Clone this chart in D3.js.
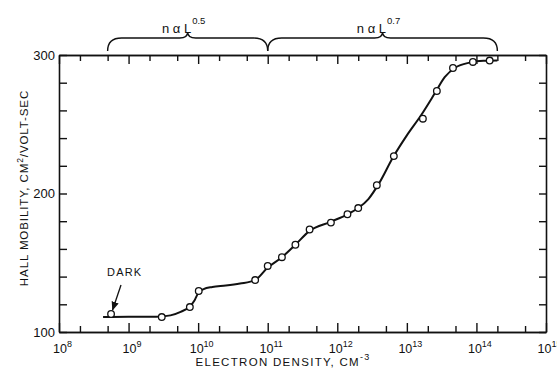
<!DOCTYPE html>
<html>
<head>
<meta charset="utf-8">
<script src="https://cdn.jsdelivr.net/npm/d3@7"></script>
<style>
  body { margin: 0; background: #fff; }
  svg { font-family: "Liberation Sans", Arial, sans-serif; }
</style>
</head>
<body>
<div id="chart-area"></div>
<script>
// measured points (electron density cm^-3, hall mobility)
var pointDensity = [5.6e8, 3e9, 7.6e9, 1.02e10, 6.6e10, 1e11, 1.6e11, 2.5e11, 4e11, 8.1e11,
                    1.4e12, 2e12, 3.7e12, 6.5e12, 1.7e13, 2.7e13, 4.6e13, 8.9e13, 1.55e14];
var pointMobility = [113, 110.8, 118, 129.6, 137.5, 147.7, 154, 163, 174, 179,
                     185, 189.5, 206, 227, 254, 274, 290.6, 295, 296];

// hand drawn fit curve
var curveDensity = [4.3e8, 1e9, 2.5e9, 4e9, 5.6e9, 7.6e9, 8.9e9, 1e10, 1.2e10, 1.6e10, 2.5e10,
                    4e10, 6.6e10, 1e11, 1.6e11, 2.5e11, 4e11, 8e11, 1.4e12, 2e12, 2.8e12,
                    4e12, 6.3e12, 1e13, 1.6e13, 2.5e13, 3.5e13, 5e13, 8e13, 1.26e14, 2e14];
var curveMobility = [110.8, 111, 111, 112, 114.5, 118.5, 123, 128, 131, 132.5, 133.5,
                     135, 137.5, 146.5, 154, 163, 173, 179.5, 185, 189.5, 196,
                     207.5, 226, 242, 256.5, 272, 284, 291, 294.5, 295.8, 296];

var xMajor = [1e8, 1e9, 1e10, 1e11, 1e12, 1e13, 1e14, 1e15];
var yTicks = [100, 120, 140, 160, 180, 200, 220, 240, 260, 280, 300];
var yLabels = [100, 200, 300];

// power-law regions marked above the plot
var braceRanges = [[5e8, 1e11], [1e11, 2e14]];
var braceExp = ["0.5", "0.7"];

var W = 557, H = 368;
var mLeft = 59, mRight = 546, mTop = 55, mBottom = 332;

var svg = d3.select("#chart-area")
    .append("svg")
    .attr("width", W)
    .attr("height", H);

var x = d3.scaleLog().domain([1e8, 1e15]).range([mLeft, mRight]);
var y = d3.scaleLinear().domain([100, 300]).range([mBottom, mTop]);

var xMinor = [];
xMajor.slice(0, -1).forEach((d) => { xMinor.push(2 * d, 5 * d); });

function styleAxis(g) {
    g.select(".domain").attr("stroke", "#111").attr("stroke-width", 1.6);
    g.selectAll(".tick line").attr("stroke", "#111").attr("stroke-width", 1.4);
}

// bottom axis
var gb = svg.append("g").attr("transform", "translate(0," + mBottom + ")")
    .call(d3.axisBottom(x).tickValues(xMajor).tickSizeInner(-9).tickSizeOuter(0).tickPadding(12));
styleAxis(gb);
gb.selectAll(".tick text")
    .attr("font-size", 12.5).attr("fill", "#111").attr("dx", 3)
    .each(function(d) {
        var t = d3.select(this);
        t.text("10");
        t.append("tspan").attr("dy", -6).attr("font-size", 9)
            .text(Math.round(Math.log10(d)));
    });
svg.append("g").attr("transform", "translate(0," + mBottom + ")")
    .call(d3.axisBottom(x).tickValues(xMinor).tickSizeInner(-6).tickSizeOuter(0).tickFormat(""))
    .call(styleAxis);

// top axis
svg.append("g").attr("transform", "translate(0," + mTop + ")")
    .call(d3.axisTop(x).tickValues(xMajor).tickSizeInner(-9).tickSizeOuter(0).tickFormat(""))
    .call(styleAxis);
svg.append("g").attr("transform", "translate(0," + mTop + ")")
    .call(d3.axisTop(x).tickValues(xMinor).tickSizeInner(-6).tickSizeOuter(0).tickFormat(""))
    .call(styleAxis);

// left axis
var gl = svg.append("g").attr("transform", "translate(" + mLeft + ",0)")
    .call(d3.axisLeft(y).tickValues(yTicks).tickSizeInner(-8).tickSizeOuter(0).tickPadding(4)
        .tickFormat((d) => yLabels.indexOf(d) >= 0 ? d : ""));
styleAxis(gl);
gl.selectAll(".tick text").attr("font-size", 13).attr("fill", "#111");

// right axis
svg.append("g").attr("transform", "translate(" + mRight + ",0)")
    .call(d3.axisRight(y).tickValues(yTicks).tickSizeInner(-7).tickSizeOuter(0).tickFormat(""))
    .call(styleAxis);

// fit curve
var line = d3.line()
    .x((d) => x(d[0]))
    .y((d) => y(d[1]))
    .curve(d3.curveMonotoneX);
svg.append("path")
    .datum(curveDensity.map((d, i) => [d, curveMobility[i]]))
    .attr("d", line)
    .attr("fill", "none")
    .attr("stroke", "#111")
    .attr("stroke-width", 2);

// data points
svg.selectAll("circle.pt")
    .data(pointDensity.map((d, i) => [d, pointMobility[i]]))
    .enter()
    .append("circle")
        .attr("class", "pt")
        .attr("cx", (d) => x(d[0]))
        .attr("cy", (d) => y(d[1]))
        .attr("r", 3.3)
        .attr("fill", "#fff")
        .attr("stroke", "#111")
        .attr("stroke-width", 1.3);

// braces with labels
braceRanges.forEach((r, i) => {
    var x0 = x(r[0]), x1 = x(r[1]), xm = (x0 + x1) / 2;
    var yb = 51, yt = 38, yc = 32;
    var p = "M" + x0 + "," + yb + " Q" + x0 + "," + yt + " " + (x0 + 14) + "," + yt +
            " L" + (xm - 8) + "," + yt + " Q" + xm + "," + yt + " " + xm + "," + yc +
            " Q" + xm + "," + yt + " " + (xm + 8) + "," + yt +
            " L" + (x1 - 14) + "," + yt + " Q" + x1 + "," + yt + " " + x1 + "," + yb;
    svg.append("path").attr("d", p).attr("fill", "none")
        .attr("stroke", "#111").attr("stroke-width", 1.4);
    var t = svg.append("text")
        .attr("x", xm - 4).attr("y", 33)
        .attr("text-anchor", "middle")
        .attr("font-size", 13).attr("fill", "#111")
        .text("n α L");
    t.append("tspan").attr("dy", -9).attr("dx", 1).attr("font-size", 9.5).text(braceExp[i]);
});

// DARK note
svg.append("defs").append("marker")
    .attr("id", "arr").attr("viewBox", "0 0 10 10")
    .attr("refX", 9).attr("refY", 5)
    .attr("markerWidth", 7).attr("markerHeight", 7)
    .attr("orient", "auto")
    .append("path").attr("d", "M0,1 L10,5 L0,9 Z").attr("fill", "#111");
svg.append("text")
    .attr("x", 107).attr("y", 276)
    .attr("font-size", 11).attr("letter-spacing", 1.2).attr("fill", "#111")
    .text("DARK");
svg.append("line")
    .attr("x1", 121).attr("y1", 285)
    .attr("x2", x(pointDensity[0]) + 1.5).attr("y2", y(pointMobility[0]) - 4)
    .attr("stroke", "#111").attr("stroke-width", 1.3)
    .attr("marker-end", "url(#arr)");

// axis titles
var xt = svg.append("text")
    .attr("x", 283).attr("y", 366)
    .attr("text-anchor", "middle")
    .attr("font-size", 11.5).attr("letter-spacing", 1.3).attr("fill", "#111")
    .text("ELECTRON DENSITY, CM");
xt.append("tspan").attr("dy", -6).attr("font-size", 9).text("-3");

var ytl = svg.append("text")
    .attr("transform", "translate(28,188) rotate(-90)")
    .attr("text-anchor", "middle")
    .attr("font-size", 11.5).attr("letter-spacing", 0.9).attr("fill", "#111")
    .text("HALL MOBILITY, CM");
ytl.append("tspan").attr("dy", -5).attr("font-size", 8.5).text("2");
ytl.append("tspan").attr("dy", 5).text("/VOLT-SEC");
</script>
</body>
</html>
